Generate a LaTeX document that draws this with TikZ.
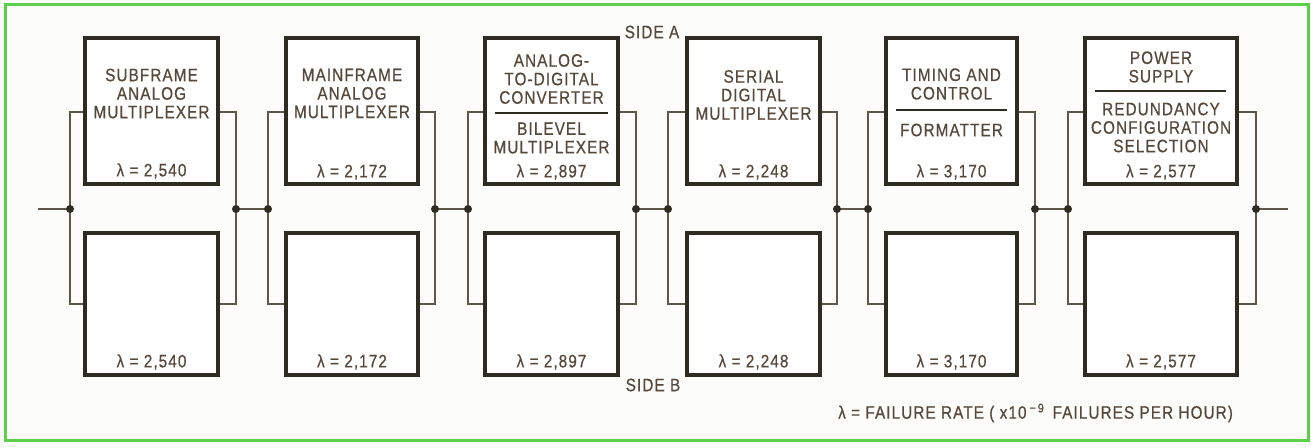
\documentclass[tikz,border=0pt]{standalone}
\usepackage{fontspec}
\setmainfont{Liberation Sans}[FakeStretch=0.85,LetterSpace=6,FakeBold=0.6]
\definecolor{boxc}{HTML}{2E2C22}
\definecolor{railc}{HTML}{5F584A}
\definecolor{txt}{HTML}{57483C}
\definecolor{frame}{HTML}{5CD04A}
\definecolor{bg}{HTML}{FCFCFA}
\begin{document}
\begin{tikzpicture}[x=1pt,y=-1pt,
  ubox/.style={draw=boxc,line width=3.2pt,fill=white,inner sep=0pt,minimum height=146pt},
  lbox/.style={draw=boxc,line width=3.2pt,fill=white,inner sep=0pt,minimum height=142pt},
  lab/.style={text=txt,font=\fontsize{18}{18.5}\selectfont,align=center,inner sep=0pt},
  rail/.style={draw=railc,line width=1.5pt},
  rulel/.style={draw=boxc,line width=2pt},
  dot/.style={fill=boxc}]
\useasboundingbox (0,0) rectangle (1311,447);
\fill[bg] (0,0) rectangle (1311,447);
\draw[frame,line width=3pt] (5,4) rectangle (1308,440);
\coordinate (ty) at (0,112);
\coordinate (by) at (0,304);
% boxes
\node[ubox,minimum width=133pt] (T1) at (151.5,111) {};
\node[lbox,minimum width=133pt] (B1) at (151.5,304) {};
\node[ubox,minimum width=132pt] (T2) at (352,111) {};
\node[lbox,minimum width=132pt] (B2) at (352,304) {};
\node[ubox,minimum width=133pt] (T3) at (551.5,111) {};
\node[lbox,minimum width=133pt] (B3) at (551.5,304) {};
\node[ubox,minimum width=133pt] (T4) at (753.5,111) {};
\node[lbox,minimum width=133pt] (B4) at (753.5,304) {};
\node[ubox,minimum width=131pt] (T5) at (951.5,111) {};
\node[lbox,minimum width=131pt] (B5) at (951.5,304) {};
\node[ubox,minimum width=152pt] (T6) at (1161,111) {};
\node[lbox,minimum width=152pt] (B6) at (1161,304) {};
% junctions
\coordinate (in) at (38,209);
\coordinate (out) at (1288,209);
\coordinate (L1) at (70,209);   \coordinate (R1) at (236,209);
\coordinate (L2) at (268,209);  \coordinate (R2) at (435,209);
\coordinate (L3) at (468,209);  \coordinate (R3) at (636,209);
\coordinate (L4) at (668,209);  \coordinate (R4) at (837,209);
\coordinate (L5) at (868,209);  \coordinate (R5) at (1035,209);
\coordinate (L6) at (1068,209); \coordinate (R6) at (1256,209);
\foreach \i in {1,...,6}{
  \draw[rail] (T\i.west |- ty) -| (L\i) |- (B\i.west |- by);
  \draw[rail] (T\i.east |- ty) -| (R\i) |- (B\i.east |- by);
}
\draw[rail] (in) -- (L1);
\draw[rail] (R1) -- (L2);
\draw[rail] (R2) -- (L3);
\draw[rail] (R3) -- (L4);
\draw[rail] (R4) -- (L5);
\draw[rail] (R5) -- (L6);
\draw[rail] (R6) -- (out);
\foreach \i in {1,...,6}{
  \fill[dot] (L\i) circle (4pt);
  \fill[dot] (R\i) circle (4pt);
}
% texts
\node[lab] (t1) at (151.5,93.5) {SUBFRAME\\ANALOG\\MULTIPLEXER};
\node[lab] (t2) at (352,93.5) {MAINFRAME\\ANALOG\\MULTIPLEXER};
\node[lab] (t3a) at (551.5,79) {ANALOG-\\TO-DIGITAL\\CONVERTER};
\draw[rulel] (495,113) -- (608,113);
\node[lab] (t3b) at (551.5,138) {BILEVEL\\MULTIPLEXER};
\node[lab] (t4) at (753.5,95) {SERIAL\\DIGITAL\\MULTIPLEXER};
\node[lab] (t5a) at (951.5,84) {TIMING AND\\CONTROL};
\draw[rulel] (896,110) -- (1007,110);
\node[lab] (t5b) at (951.5,130) {FORMATTER};
\node[lab] (t6a) at (1161,67) {POWER\\SUPPLY};
\draw[rulel] (1095,91) -- (1226,91);
\node[lab] (t6b) at (1161,127.5) {REDUNDANCY\\CONFIGURATION\\SELECTION};
\node[lab] (ta1) at (151.5,171) {λ = 2,540};
\node[lab] (ta2) at (352,172) {λ = 2,172};
\node[lab] (ta3) at (551.5,172) {λ = 2,897};
\node[lab] (ta4) at (753.5,172) {λ = 2,248};
\node[lab] (ta5) at (951.5,172) {λ = 3,170};
\node[lab] (ta6) at (1161,172) {λ = 2,577};
\node[lab] (tb1) at (151.5,362) {λ = 2,540};
\node[lab] (tb2) at (352,362) {λ = 2,172};
\node[lab] (tb3) at (551.5,362) {λ = 2,897};
\node[lab] (tb4) at (753.5,362) {λ = 2,248};
\node[lab] (tb5) at (951.5,362) {λ = 3,170};
\node[lab] (tb6) at (1161,362) {λ = 2,577};
\node[lab] (sa) at (652,32) {SIDE A};
\node[lab] (sb) at (653,385) {SIDE B};
\node[lab,anchor=west] (leg) at (838,413) {λ = FAILURE RATE ( x10\,\textsuperscript{−\,9}\, FAILURES PER HOUR)};
\end{tikzpicture}
\end{document}
